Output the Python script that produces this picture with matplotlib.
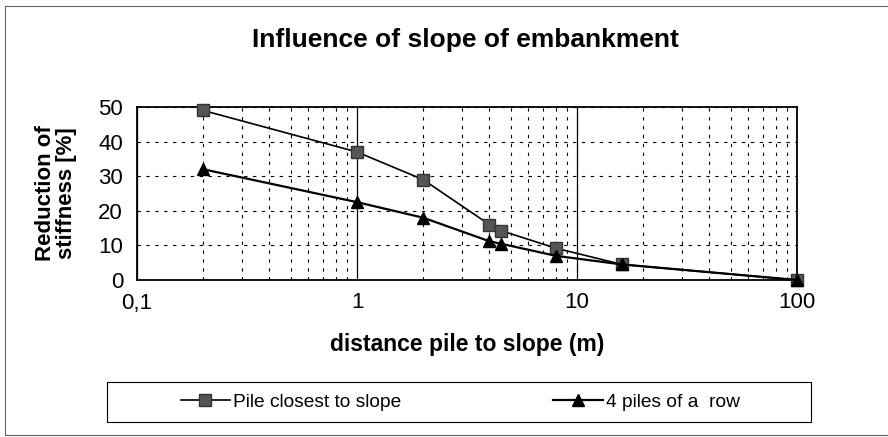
import matplotlib
matplotlib.use("Agg")
import matplotlib.pyplot as plt
import matplotlib.patches as patches
from matplotlib.ticker import FixedLocator, FixedFormatter, LogLocator, NullFormatter
from matplotlib.lines import Line2D

# data
jarak = [0.2, 1, 2, 4, 4.5, 8, 16, 100]
tiang_terdekat = [49, 37, 29, 16, 14.3, 9.2, 4.5, 0]
empat_tiang = [32, 22.5, 18, 11.2, 10.5, 7, 4.5, 0]
xtick_vals = [0.1, 1, 10, 100]
xtick_labs = ["0,1", "1", "10", "100"]
ytick_vals = [0, 10, 20, 30, 40, 50]

plt.rcParams['font.family'] = ['Liberation Sans', 'DejaVu Sans']

fig = plt.figure(figsize=(8.88, 4.37), dpi=100)
ax = fig.add_axes([137/888, 1 - 280/437, (797 - 137)/888, (280 - 107)/437])

ax.plot(jarak, tiang_terdekat, color="black", lw=1.2, marker="s", ms=8,
        mfc="#555555", mec="#333333", label="Pile closest to slope", zorder=3, clip_on=False)
ax.plot(jarak, empat_tiang, color="black", lw=1.6, marker="^", ms=9,
        mfc="black", mec="black", label="4 piles of a  row", zorder=3, clip_on=False)

ax.set_xscale("log")
ax.set_xlim(0.1, 100)
ax.set_ylim(0, 50)
ax.xaxis.set_major_locator(FixedLocator(xtick_vals))
ax.xaxis.set_major_formatter(FixedFormatter(xtick_labs))
ax.xaxis.set_minor_locator(LogLocator(base=10, subs=range(2, 10)))
ax.xaxis.set_minor_formatter(NullFormatter())
ax.set_yticks(ytick_vals)

ax.grid(True, which="major", axis="x", color="black", lw=0.9, ls="-")
ax.grid(True, which="minor", axis="x", color="black", lw=0.8, ls=(0, (3, 5)))
ax.grid(True, which="major", axis="y", color="black", lw=0.8, ls=(0, (3, 5)))
ax.tick_params(axis="both", which="both", length=0, labelsize=16)
ax.tick_params(axis="x", pad=9)
ax.tick_params(axis="y", pad=10)
for s in ax.spines.values():
    s.set_linewidth(1.3)

ax.set_xlabel("distance pile to slope (m)", fontsize=16.5, fontweight="bold", labelpad=14)
ax.set_ylabel("Reduction of\nstiffness [%]", fontsize=16, fontweight="bold", labelpad=15,
              linespacing=1.0)
fig.text(465/888, 1 - 40/437, "Influence of slope of embankment", ha="center", va="center",
         fontsize=19, fontweight="bold")

# legend (frame drawn separately so it can be wider than its entries)
handles = [Line2D([], [], color="black", lw=1.2, marker="s", ms=8, mfc="#555555", mec="#333333"),
           Line2D([], [], color="black", lw=1.6, marker="^", ms=9, mfc="black", mec="black")]
leg = fig.legend(handles, ["Pile closest to slope", "4 piles of a  row"], loc="center",
                 bbox_to_anchor=(460/888, 1 - 402/437), ncol=2, frameon=False,
                 fontsize=13.8, handlelength=2.6, handletextpad=0.15,
                 columnspacing=7.9, borderpad=0, borderaxespad=0)
fig.add_artist(patches.Rectangle((107/888, 1 - 422/437), (811 - 107)/888, 40/437,
                                 transform=fig.transFigure, fill=False, ec="black", lw=0.8))

# outer chart border (left, top, bottom)
kw = dict(transform=fig.transFigure, color="#666666", lw=0.8)
fig.add_artist(Line2D([5/888, 5/888], [2/437, 1 - 6/437], **kw))
fig.add_artist(Line2D([5/888, 1], [1 - 6/437, 1 - 6/437], **kw))
fig.add_artist(Line2D([5/888, 1], [2/437, 2/437], **kw))

fig.savefig("out.png", dpi=100)
